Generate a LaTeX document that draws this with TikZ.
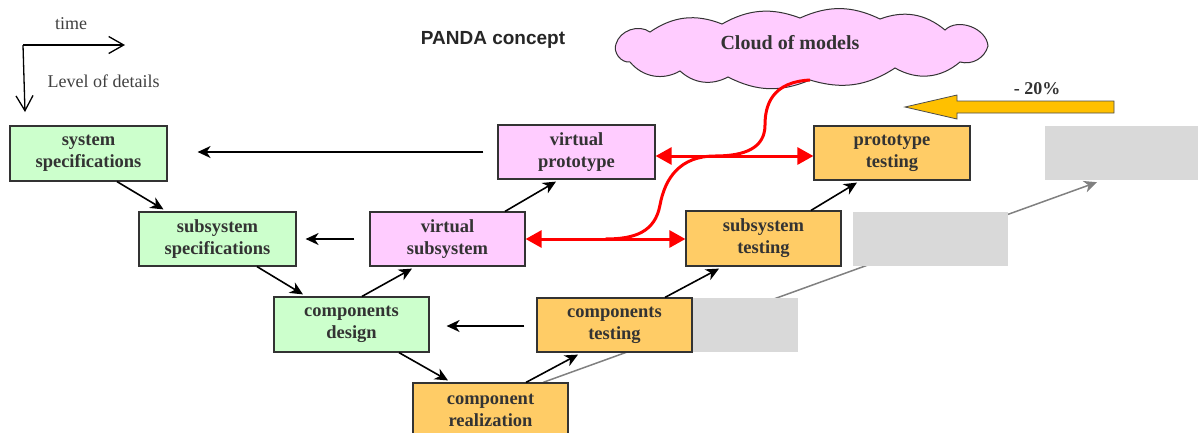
\documentclass[tikz,border=0pt]{standalone}
\usepackage{fontspec}
\setmainfont{Liberation Serif}
\newfontfamily\sansf{Liberation Sans}
\usetikzlibrary{arrows.meta,calc,backgrounds}
\definecolor{gfill}{HTML}{CCFFCC}
\definecolor{pfill}{HTML}{FFCCFF}
\definecolor{ofill}{HTML}{FFCC66}
\definecolor{greyboxc}{HTML}{D9D9D9}
\definecolor{txt}{HTML}{333333}
\definecolor{yarrow}{HTML}{FFC000}
\definecolor{redc}{HTML}{FF0000}
\begin{document}
\begin{tikzpicture}[x=1pt,y=-1pt,
  box/.style={draw=black!80, line width=1.2pt, inner sep=0pt, align=center,
    font=\fontsize{18.5}{22}\selectfont\bfseries, text=txt},
  gbox/.style={fill=greyboxc, inner sep=0pt},
  blk/.style={line width=1.6pt, -{Stealth[length=13pt,width=12pt,inset=4pt]}},
  redarr/.style={redc, line width=3pt, {Triangle[length=16pt,width=17pt]}-{Triangle[length=16pt,width=17pt]}},
  redline/.style={redc, line width=3pt},
  greyline/.style={black!50, line width=1.5pt, -{Stealth[length=13pt,width=12pt,inset=4pt]}},
  axis/.style={line width=1.3pt, -{Straight Barb[length=15pt,width=17pt]}},
  lbl/.style={font=\fontsize{18}{22}\selectfont, text=black!75},
  puff/.style={bend left=#1}
]
\useasboundingbox (0,0) rectangle (1198,432);
\clip (0,0) rectangle (1198,432);

% axes
\coordinate (o) at (23,45);
\coordinate (tx) at (125,45);
\coordinate (ty) at (25,112);
\draw[axis] (o) -- (tx);
\draw[axis] (o) -- (ty);
\node[lbl] (time) at (71,24) {time};
\node[lbl, anchor=west] (lod) at (44,81) {Level of details};

% title
\node[font=\sansf\fontsize{19}{22}\selectfont\bfseries, text=black!85] (title) at (493,40) {PANDA concept};

% cloud
\coordinate (cb) at (810,80);
\draw[fill=pfill, draw=black!80, line width=1pt]
  (616,44) to[puff=55] (650,32) to[puff=28] (722,24) to[puff=25] (800,18)
  to[puff=25] (880,19) to[puff=30] (945,30) to[puff=65] (988,46)
  to[puff=45] (960,62) to[puff=35] (895,68) to[puff=25] (cb)
  to[puff=25] (728,77) to[puff=35] (680,71) to[puff=40] (630,62) to[puff=60] cycle;
\node[font=\fontsize{20}{24}\selectfont\bfseries, text=txt] (cloudtxt) at (790,43) {Cloud of models};

% yellow arrow
\draw[fill=yarrow, draw=black!70, line width=0.8pt]
  (905,107) -- (957,95) -- (957,101) -- (1114,101) -- (1114,113) -- (957,113) -- (957,119) -- cycle;
\node[font=\fontsize{18}{20}\selectfont\bfseries, text=txt] (pct) at (1037,89) {- 20\%};

% grey boxes
\node[gbox, minimum width=106pt, minimum height=54pt] (gc) at (745,325) {};
\node[gbox, minimum width=155pt, minimum height=54pt] (gs) at (930.5,239) {};
\node[gbox, minimum width=165pt, minimum height=54pt] (gp) at (1127.5,153) {};

% boxes
\node[box, fill=gfill, minimum width=157pt, minimum height=55pt] (sys) at (88.5,153.5) {system\\specifications};
\node[box, fill=gfill, minimum width=157pt, minimum height=54pt] (subsys) at (217.5,239) {subsystem\\specifications};
\node[box, fill=gfill, minimum width=155pt, minimum height=55pt] (cd) at (351.5,324.5) {components\\design};
\node[box, fill=ofill, minimum width=155pt, minimum height=55pt] (cr) at (490.5,410.5) {component\\realization};
\node[box, fill=ofill, minimum width=155pt, minimum height=54pt] (ct) at (614.5,325) {components\\testing};
\node[box, fill=ofill, minimum width=155pt, minimum height=55pt] (st) at (763.5,238.5) {subsystem\\testing};
\node[box, fill=ofill, minimum width=156pt, minimum height=54pt] (pt) at (892,153) {prototype\\testing};
\node[box, fill=pfill, minimum width=155pt, minimum height=54pt] (vs) at (447.5,239) {virtual\\subsystem};
\node[box, fill=pfill, minimum width=157pt, minimum height=54pt] (vp) at (576.5,152) {virtual\\prototype};

% grey trend line behind
\begin{scope}[on background layer]
\draw[greyline] ($(cr.north)+(52.5,0)$) -- ($(gp.south)+(-30.5,2)$);
\end{scope}

% black arrows
\draw[blk] ($(sys.south)+(28.5,0)$) -- ($(subsys.north)+(-54,-2)$);
\draw[blk] ($(subsys.south)+(39.5,0)$) -- ($(cd.north)+(-48.5,-2)$);
\draw[blk] ($(cd.south)+(47.5,0)$) -- ($(cr.north)+(-42.5,-2)$);
\draw[blk] ($(cr.north)+(35.5,0)$) -- ($(ct.south)+(-36.5,2)$);
\draw[blk] ($(ct.north)+(50.5,0)$) -- ($(st.south)+(-44.5,2)$);
\draw[blk] ($(st.north)+(47.5,0)$) -- ($(pt.south)+(-35,2)$);
\draw[blk] ($(cd.north)+(10.5,0)$) -- ($(vs.south)+(-35.5,2)$);
\draw[blk] ($(vs.north)+(57.5,0)$) -- ($(vp.south)+(-20.5,2)$);
\draw[blk] ($(vp.west)+(-14,0)$) -- ($(sys.east |- vp.west)+(30,0)$);
\draw[blk] ($(vs.west)+(-15,0)$) -- ($(subsys.east)+(9,0)$);
\draw[blk] ($(ct.west)+(-12,1)$) -- ($(cd.east |- ct.west)+(17,1)$);

% red arrows
\draw[redarr] ($(vp.east)+(0,4)$) -- ($(pt.west)+(0,3)$);
\draw[redarr] (vs.east) -- (st.west |- vs.east);
\coordinate (rmid) at ($(vs.east)!0.5!(st.west |- vs.east)$);
\draw[redline] (cb) .. controls (772,82) and (765,105) .. (765,125)
  .. controls (765,148) and (745,156) .. (715,156)
  .. controls (680,156) and (665,178) .. (660,205)
  .. controls (655,232) and (635,239) .. (rmid);
\end{tikzpicture}
\end{document}
